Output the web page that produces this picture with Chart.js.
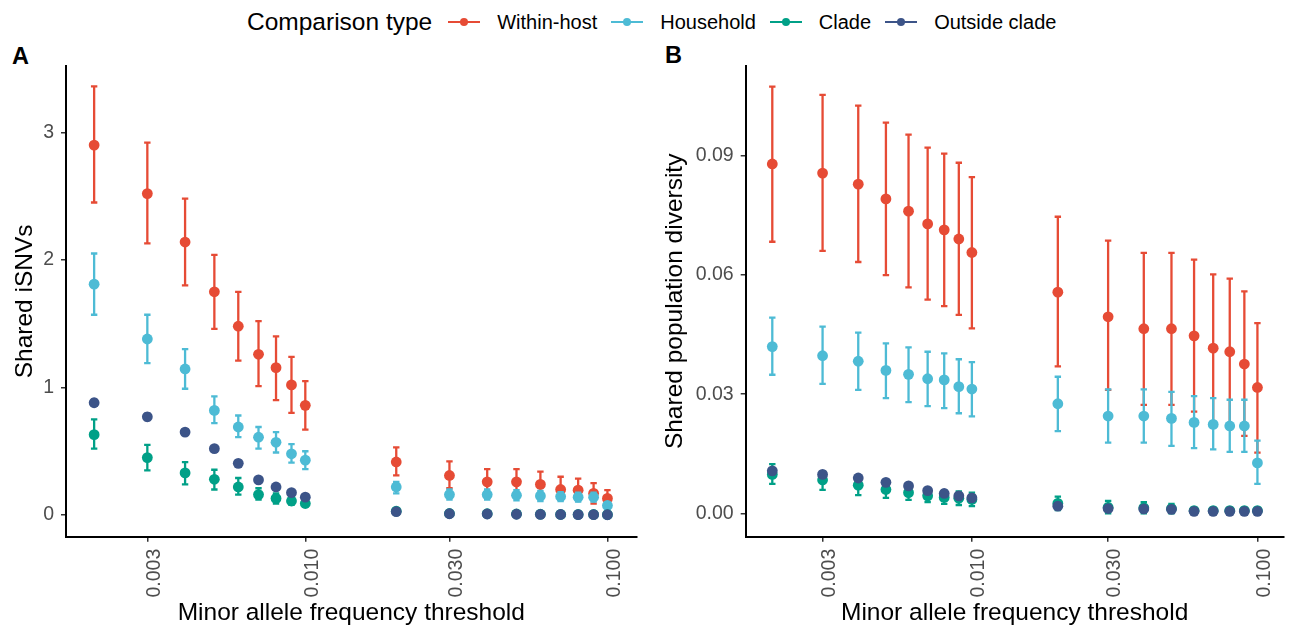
<!DOCTYPE html>
<html>
<head>
<meta charset="utf-8">
<script src="https://cdn.jsdelivr.net/npm/chart.js@4.4.1/dist/chart.umd.min.js"></script>
<style>
html,body{margin:0;padding:0;background:#fff;}
body{width:1289px;height:627px;position:relative;overflow:hidden;font-family:"Liberation Sans",Arial,Helvetica,sans-serif;}
#wrapA{position:absolute;left:0;top:0;width:642px;height:627px;}
#wrapB{position:absolute;left:642px;top:0;width:647px;height:627px;}
#legend{position:absolute;left:247px;top:0;height:44px;display:flex;align-items:center;white-space:nowrap;}
.ltitle{font-size:24.5px;color:#000;}
.key{position:relative;width:32px;height:10px;margin-left:16px;flex:none;}
.key .ln{position:absolute;left:0;right:0;top:4px;height:2px;}
.key .dt{position:absolute;left:12px;top:1px;width:8px;height:8px;border-radius:50%;}
.llabel{font-size:20px;margin-left:17px;margin-right:-2px;color:#000;}
.panel{position:absolute;font-weight:bold;font-size:23.5px;line-height:24px;color:#000;}
</style>
</head>
<body>
<div id="legend"></div>
<div class="panel" style="left:12px;top:44px;">A</div>
<div class="panel" style="left:665px;top:43px;">B</div>
<div id="wrapA"><canvas id="cA" width="642" height="627"></canvas></div>
<div id="wrapB"><canvas id="cB" width="647" height="627"></canvas></div>
<script>
// ---------- data ----------
const thresholds = [0.002,0.003,0.004,0.005,0.006,0.007,0.008,0.009,0.010,0.02,0.03,0.04,0.05,0.06,0.07,0.08,0.09,0.10];
const seriesNames = ["Within-host","Household","Clade","Outside clade"];
const seriesColors = ["#E64B35","#4DBBD5","#00A087","#3C5488"];
const xTickValues = [0.003,0.01,0.03,0.1];
const xTickLabels = ["0.003","0.010","0.030","0.100"];

// Panel A: shared iSNVs
const aTickValues = [0,1,2,3];
const aTickLabels = ["0","1","2","3"];
const aWithinMean = [2.90,2.52,2.14,1.75,1.48,1.26,1.155,1.02,0.86,0.416,0.31,0.26,0.26,0.24,0.20,0.195,0.17,0.13];
const aWithinLo   = [2.45,2.13,1.80,1.46,1.21,1.01,0.90,0.80,0.67,0.31,0.21,0.165,0.165,0.15,0.12,0.12,0.09,0.07];
const aWithinHi   = [3.36,2.92,2.48,2.04,1.75,1.52,1.40,1.24,1.05,0.53,0.42,0.36,0.36,0.34,0.30,0.285,0.25,0.195];
const aHouseMean  = [1.81,1.38,1.145,0.82,0.69,0.61,0.57,0.48,0.43,0.22,0.16,0.16,0.155,0.15,0.145,0.14,0.14,0.075];
const aHouseLo    = [1.57,1.19,0.99,0.72,0.61,0.52,0.49,0.41,0.36,0.17,0.12,0.12,0.115,0.11,0.11,0.105,0.105,0.05];
const aHouseHi    = [2.05,1.57,1.30,0.93,0.78,0.69,0.65,0.555,0.50,0.26,0.20,0.20,0.195,0.19,0.18,0.175,0.175,0.10];
const aCladeMean  = [0.63,0.45,0.33,0.28,0.22,0.16,0.13,0.11,0.09,0.03,0.012,0.01,0.008,0.006,0.005,0.004,0.004,0.003];
const aCladeLo    = [0.52,0.35,0.24,0.20,0.16,0.12,0.09,0.08,0.07,0.01,0.004,0.003,0.002,0.002,0.001,0.001,0.001,0.001];
const aCladeHi    = [0.75,0.55,0.415,0.355,0.29,0.21,0.17,0.14,0.12,0.05,0.02,0.017,0.014,0.011,0.009,0.008,0.007,0.006];
const aOutMean    = [0.88,0.77,0.65,0.52,0.405,0.275,0.22,0.175,0.14,0.026,0.01,0.008,0.006,0.005,0.004,0.003,0.003,0.002];
const aOutLo      = [0.855,0.745,0.63,0.50,0.39,0.26,0.205,0.16,0.13,0.02,0.006,0.005,0.004,0.003,0.002,0.002,0.002,0.001];
const aOutHi      = [0.905,0.795,0.67,0.54,0.42,0.29,0.235,0.19,0.15,0.032,0.014,0.011,0.008,0.007,0.006,0.004,0.004,0.003];

// Panel B: shared population diversity
const bTickValues = [0,0.03,0.06,0.09];
const bTickLabels = ["0.00","0.03","0.06","0.09"];
const bWithinMean = [0.0880,0.0857,0.0829,0.0792,0.0761,0.0729,0.0714,0.0691,0.0657,0.0557,0.0495,0.0465,0.0465,0.0447,0.0416,0.0407,0.0376,0.0317];
const bWithinLo   = [0.0684,0.0661,0.0633,0.0600,0.0569,0.0538,0.0522,0.0500,0.0466,0.0370,0.0311,0.0273,0.0273,0.0256,0.0230,0.0223,0.0195,0.0153];
const bWithinHi   = [0.1075,0.1054,0.1027,0.0984,0.0954,0.0921,0.0906,0.0883,0.0847,0.0747,0.0687,0.0656,0.0656,0.0639,0.0602,0.0591,0.0559,0.0479];
const bHouseMean  = [0.0420,0.0397,0.0383,0.0360,0.0350,0.0339,0.0336,0.0319,0.0313,0.0276,0.0245,0.0245,0.0239,0.0229,0.0224,0.0220,0.0220,0.0127];
const bHouseLo    = [0.0349,0.0326,0.0311,0.0290,0.0280,0.0270,0.0265,0.0252,0.0244,0.0207,0.0178,0.0178,0.0170,0.0164,0.0161,0.0155,0.0155,0.0074];
const bHouseHi    = [0.0493,0.0470,0.0455,0.0428,0.0418,0.0407,0.0403,0.0388,0.0381,0.0344,0.0312,0.0312,0.0306,0.0295,0.0290,0.0286,0.0286,0.0183];
const bCladeMean  = [0.0098,0.0084,0.0071,0.0060,0.0052,0.0044,0.0040,0.0038,0.0035,0.0025,0.0015,0.0014,0.0012,0.0007,0.0007,0.0007,0.0007,0.0007];
const bCladeLo    = [0.0074,0.0059,0.0046,0.0039,0.0034,0.0028,0.0024,0.0021,0.0018,0.0008,0.0000,0.0000,0.0000,0.0000,0.0000,0.0000,0.0000,0.0000];
const bCladeHi    = [0.0124,0.0105,0.0093,0.0080,0.0070,0.0060,0.0058,0.0055,0.0052,0.0042,0.0031,0.0028,0.0024,0.0014,0.0014,0.0014,0.0014,0.0014];
const bOutMean    = [0.0107,0.0098,0.0089,0.0078,0.0069,0.0057,0.0050,0.0044,0.0039,0.0018,0.0012,0.0011,0.0010,0.0005,0.0005,0.0005,0.0005,0.0005];
const bOutLo      = [0.0102,0.0093,0.0084,0.0073,0.0064,0.0052,0.0045,0.0039,0.0034,0.0013,0.0007,0.0006,0.0005,0.0000,0.0000,0.0000,0.0000,0.0000];
const bOutHi      = [0.0112,0.0103,0.0094,0.0083,0.0074,0.0062,0.0055,0.0049,0.0044,0.0023,0.0017,0.0016,0.0015,0.0010,0.0010,0.0010,0.0010,0.0010];

// ---------- legend (HTML) ----------
(function(){
  const lg = document.getElementById('legend');
  const t = document.createElement('span'); t.className='ltitle'; t.textContent='Comparison type'; lg.appendChild(t);
  seriesNames.forEach((n,i)=>{
    const k = document.createElement('span'); k.className='key';
    k.innerHTML = '<span class="ln" style="background:'+seriesColors[i]+'"></span><span class="dt" style="background:'+seriesColors[i]+'"></span>';
    lg.appendChild(k);
    const l = document.createElement('span'); l.className='llabel'; l.textContent=n; lg.appendChild(l);
  });
})();

// ---------- error bar plugin ----------
const errorBars = {
  id:'errorBars',
  beforeDatasetDraw(chart, args){
    const ds = chart.data.datasets[args.index];
    if(!ds.errLo) return;
    const ctx = chart.ctx, xs = chart.scales.x, ys = chart.scales.y;
    ctx.save();
    ctx.strokeStyle = ds.borderColor; ctx.lineWidth = 2.3;
    ds.data.forEach((p,i)=>{
      const px = xs.getPixelForValue(p.x);
      const yl = ys.getPixelForValue(ds.errLo[i]), yh = ys.getPixelForValue(ds.errHi[i]);
      ctx.beginPath();
      ctx.moveTo(px, yl); ctx.lineTo(px, yh);
      ctx.moveTo(px-3.2, yl); ctx.lineTo(px+3.2, yl);
      ctx.moveTo(px-3.2, yh); ctx.lineTo(px+3.2, yh);
      ctx.stroke();
    });
    ctx.restore();
  }
};

function mkDataset(idx, mean, lo, hi){
  return {
    label: seriesNames[idx],
    data: thresholds.map((x,i)=>({x:x, y:mean[i]})),
    errLo: lo, errHi: hi,
    showLine:false,
    backgroundColor: seriesColors[idx],
    borderColor: seriesColors[idx],
    pointRadius: 5.4, pointBorderWidth: 0, pointHoverRadius:5.4,
    order: 4-idx
  };
}

const FONT = '"Liberation Sans", Arial, Helvetica, sans-serif';

function makePanel(canvasId, datasets, opt){
  return new Chart(document.getElementById(canvasId), {
    type:'scatter',
    data:{datasets:datasets},
    plugins:[errorBars],
    options:{
      responsive:false, animation:false, devicePixelRatio:1,
      layout:{padding:{top:66,left:0,right:opt.padRight,bottom:0}},
      plugins:{legend:{display:false}, tooltip:{enabled:false}},
      scales:{
        x:{
          type:'logarithmic', min:0.001614, max:opt.xMax,
          afterBuildTicks:(s)=>{ s.ticks = xTickValues.map(v=>({value:v})); },
          afterFit:(s)=>{ s.height = 90.3; },
          ticks:{
            autoSkip:false, minRotation:90, maxRotation:90, padding:7, labelOffset:7,
            color:'#4D4D4D', font:{family:FONT, size:19.5},
            callback:(v,i)=>xTickLabels[i]
          },
          grid:{drawOnChartArea:false, drawTicks:true, tickLength:5, color:'#333333', lineWidth:1.5},
          border:{display:true, color:'#000000', width:2},
          title:{display:true, text:'Minor allele frequency threshold', color:'#000', font:{family:FONT, size:24.5}, padding:{top:0,bottom:-1}}
        },
        y:{
          type:'linear', min:opt.yMin, max:opt.yMax,
          afterBuildTicks:(s)=>{ s.ticks = opt.yTicks.map(v=>({value:v})); },
          afterFit:(s)=>{ s.width = opt.yWidth; },
          ticks:{
            padding:7, color:'#4D4D4D', font:{family:FONT, size:19.5},
            callback:(v,i)=>opt.yLabels[i]
          },
          grid:{drawOnChartArea:false, drawTicks:true, tickLength:5, color:'#333333', lineWidth:1.5},
          border:{display:true, color:'#000000', width:2},
          title:{display:true, text:opt.yTitle, color:'#000', font:{family:FONT, size:24.5}, padding:{top:opt.titlePad,bottom:0}}
        }
      }
    }
  });
}

makePanel('cA', [
  mkDataset(0,aWithinMean,aWithinLo,aWithinHi),
  mkDataset(1,aHouseMean,aHouseLo,aHouseHi),
  mkDataset(2,aCladeMean,aCladeLo,aCladeHi),
  mkDataset(3,aOutMean,aOutLo,aOutHi)
], {yMin:-0.17, yMax:3.52, yTicks:aTickValues, yLabels:aTickLabels, yTitle:'Shared iSNVs', yWidth:66, titlePad:10.3, padRight:3, xMax:0.1249});

makePanel('cB', [
  mkDataset(0,bWithinMean,bWithinLo,bWithinHi),
  mkDataset(1,bHouseMean,bHouseLo,bHouseHi),
  mkDataset(2,bCladeMean,bCladeLo,bCladeHi),
  mkDataset(3,bOutMean,bOutLo,bOutHi)
], {yMin:-0.00589, yMax:0.11267, yTicks:bTickValues, yLabels:bTickLabels, yTitle:'Shared population diversity', yWidth:103.7, titlePad:18.3, padRight:0, xMax:0.1235});
</script>
</body>
</html>
